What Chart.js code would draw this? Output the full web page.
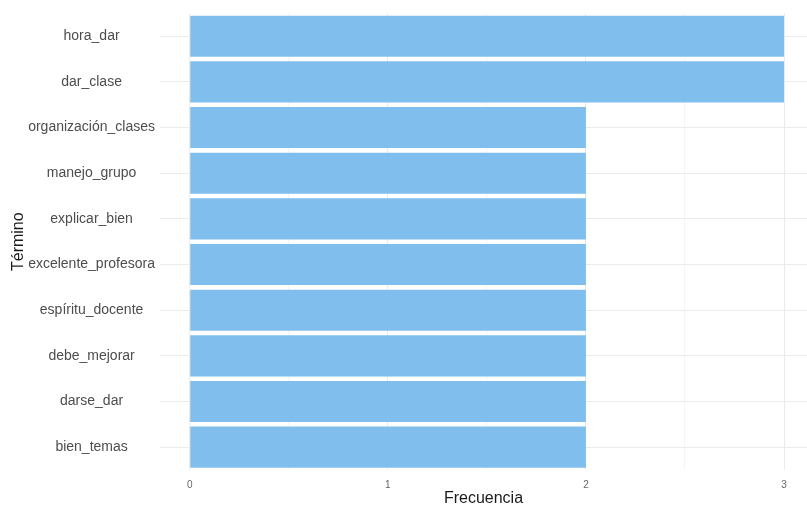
<!DOCTYPE html>
<html lang="es">
<head>
    <meta charset="UTF-8">
    <title>Frecuencia de términos</title>
    <script src="https://cdn.jsdelivr.net/npm/chart.js"></script>
    <style>
        html, body { margin: 0; padding: 0; background: #ffffff; }
        #wrap { position: relative; width: 807px; height: 506px; }
    </style>
</head>
<body>
    <div id="wrap"><canvas id="termChart"></canvas></div>

    <script>
        const terms = ['hora_dar', 'dar_clase', 'organización_clases', 'manejo_grupo', 'explicar_bien',
                       'excelente_profesora', 'espíritu_docente', 'debe_mejorar', 'darse_dar', 'bien_temas'];
        const freqs = [3, 3, 2, 2, 2, 2, 2, 2, 2, 2];
        const xTicks = [0, 0.5, 1, 1.5, 2, 2.5, 3];
        const xMajor = [0, 1, 2, 3];

        const font = "'Liberation Sans', Arial, sans-serif";

        new Chart(document.getElementById('termChart'), {
            type: 'bar',
            data: {
                labels: terms,
                datasets: [{
                    data: freqs,
                    backgroundColor: '#80bfed',
                    borderWidth: 0,
                    barPercentage: 0.9,
                    categoryPercentage: 1.0
                }]
            },
            options: {
                indexAxis: 'y',
                responsive: true,
                maintainAspectRatio: false,
                animation: false,
                layout: { padding: { top: 11, right: 0, bottom: 0, left: 0 } },
                plugins: { legend: { display: false }, tooltip: { enabled: false } },
                scales: {
                    x: {
                        min: -0.15,
                        max: 3.116,
                        afterBuildTicks: (scale) => { scale.ticks = xTicks.map(v => ({ value: v })); },
                        afterFit: (scale) => { scale.height = 36; },
                        border: { display: false },
                        grid: {
                            drawTicks: false,
                            color: (ctx) => xMajor.includes(ctx.tick.value) ? '#ebebeb' : '#f5f5f5'
                        },
                        ticks: {
                            autoSkip: false,
                            maxRotation: 0,
                            padding: 9,
                            color: '#666666',
                            font: { family: font, size: 10 },
                            callback: (v) => xMajor.includes(v) ? String(v) : ''
                        },
                        title: {
                            display: true,
                            text: 'Frecuencia',
                            color: '#1a1a1a',
                            font: { family: font, size: 16 },
                            padding: { top: 0, bottom: -2 }
                        }
                    },
                    y: {
                        afterFit: (scale) => { scale.width = 160; },
                        border: { display: false },
                        grid: { offset: false, drawTicks: false, color: '#ebebeb' },
                        ticks: {
                            crossAlign: 'center',
                            padding: 5,
                            color: '#4d4d4d',
                            font: { family: font, size: 14 }
                        },
                        title: {
                            display: true,
                            text: 'Término',
                            color: '#1a1a1a',
                            font: { family: font, size: 16 },
                            padding: { top: 9, bottom: 0 }
                        }
                    }
                }
            }
        });
    </script>
</body>
</html>
